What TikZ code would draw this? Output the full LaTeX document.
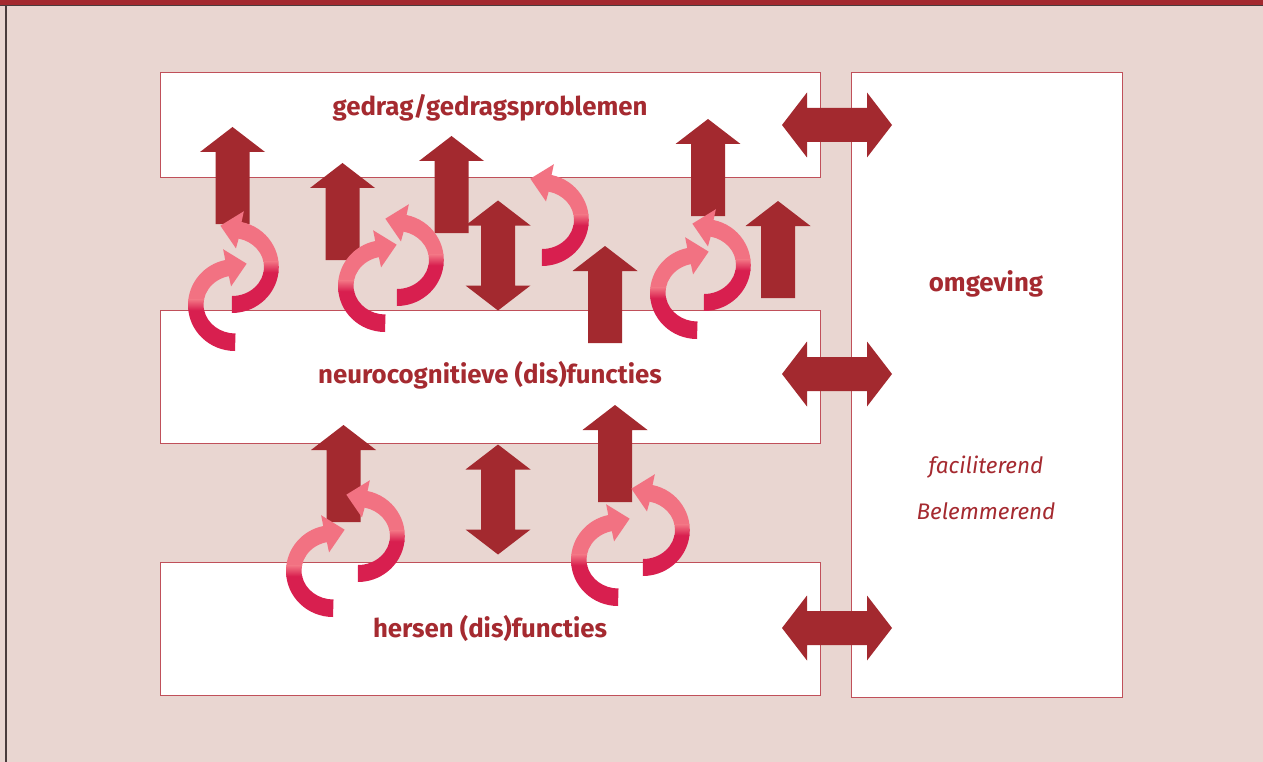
\documentclass[tikz,border=0pt]{standalone}
\usepackage{fontspec}
\setmainfont{Fira Sans}
\usetikzlibrary{calc}
\definecolor{bgpink}{HTML}{E9D6D1}
\definecolor{darkred}{HTML}{A3292F}
\definecolor{txtred}{HTML}{A52A30}
\definecolor{pinkl}{HTML}{F27282}
\definecolor{crims}{HTML}{D81F4F}
\definecolor{boxline}{HTML}{C0505A}
\definecolor{frameline}{HTML}{4A3C3C}
\tikzset{
  box/.style={draw=boxline, line width=0.9pt, fill=white, inner sep=0pt},
  lbl/.style={text=txtred, font=\fontsize{25.8}{30}\selectfont\bfseries, inner sep=0pt},
  ilbl/.style={text=txtred, font=\fontsize{22.5}{26}\selectfont\itshape, inner sep=0pt},
  uparr/.pic={\fill[darkred] (-17,0) -- (-17,-72) -- (-32.5,-72) -- (0,-97) -- (32.5,-72) -- (17,-72) -- (17,0) -- cycle;},
  dblv/.pic={\fill[darkred] (0,-55) -- (32.5,-30) -- (17,-30) -- (17,30) -- (32.5,30) -- (0,55) -- (-32.5,30) -- (-17,30) -- (-17,-30) -- (-32.5,-30) -- cycle;},
  dblh/.pic={\fill[darkred] (-55,0) -- (-30,32.5) -- (-30,17) -- (30,17) -- (30,32.5) -- (55,0) -- (30,-32.5) -- (30,-17) -- (-30,-17) -- (-30,-32.5) -- cycle;},
  lowarc/.pic={
    \begin{scope}[yscale=-1]
    \clip (0,-46) arc[start angle=270, end angle=102, x radius=47, y radius=46] -- (102:57) -- ($(102:38)+(12:20)$) -- (102:19) -- (102:29.5) arc[start angle=102, end angle=270, x radius=32, y radius=29] -- cycle;
    \fill[pinkl] (-70,5) rectangle (70,70);
    \fill[crims] (-70,-5) rectangle (70,-70);
    \shade[bottom color=crims, top color=pinkl] (-70,-5.2) rectangle (70,5.2);
    \end{scope}},
  uparc/.pic={
    \begin{scope}[yscale=-1]
    \clip (0,-29) arc[start angle=270, end angle=438, x radius=32, y radius=29] -- (78:19) -- ($(78:38)+(168:20)$) -- (78:57) -- (78:46) arc[start angle=438, end angle=270, x radius=47, y radius=46] -- cycle;
    \fill[pinkl] (-70,5) rectangle (70,70);
    \fill[crims] (-70,-5) rectangle (70,-70);
    \shade[bottom color=crims, top color=pinkl] (-70,-5.2) rectangle (70,5.2);
    \end{scope}}
}
\begin{document}
\begin{tikzpicture}[x=1pt,y=-1pt]
\useasboundingbox (0,0) rectangle (1263,762);
\fill[bgpink] (0,0) rectangle (1263,762);
\fill[darkred] (0,0) rectangle (1263,5.2);
\draw[frameline, line width=1.2pt] (0,5.6) -- (1263,5.6);
\draw[frameline, line width=1.8pt] (5.8,5) -- (5.8,762);

% boxes
\node[box, minimum width=660pt, minimum height=105pt] (gedragbox) at (490,124.5) {};
\node[box, minimum width=660pt, minimum height=133pt] (neurobox) at (490,376.5) {};
\node[box, minimum width=660pt, minimum height=133pt] (hersenbox) at (490,628.5) {};
\node[box, minimum width=271pt, minimum height=625pt] (omgbox) at (986.5,384.5) {};

% labels
\node[lbl] (tgedrag) at (490,108) {gedrag/gedragsproblemen};
\node[lbl] (tneuro) at (490,375) {neurocognitieve (dis)functies};
\node[lbl] (thersen) at (490,628) {hersen (dis)functies};
\node[lbl] (tomg) at (986,284) {omgeving};
\node[ilbl] (tfac) at (986,467) {faciliterend};
\node[ilbl] (tbel) at (986,511) {Belemmerend};

% horizontal double arrows
\pic at (837,125) {dblh};
\pic at (837,374) {dblh};
\pic at (837,628) {dblh};
% vertical double arrows
\pic at (498,255.5) {dblv};
\pic at (498,499.5) {dblv};
% up arrows (bottom centre)
\pic at (232.5,224) {uparr};
\pic at (342.5,260) {uparr};
\pic at (451.5,233) {uparr};
\pic at (605,343) {uparr};
\pic at (708,216) {uparr};
\pic at (778,298) {uparr};
\pic at (343.5,522) {uparr};
\pic at (615,502) {uparr};

% cycle arrows
\pic at (235,305) {lowarc};
\pic at (232,267) {uparc};
\pic at (385,286) {lowarc};
\pic at (397,260) {uparc};
\pic at (697,293) {lowarc};
\pic at (704,265) {uparc};
\pic at (333,571) {lowarc};
\pic at (358,536) {uparc};
\pic at (618,560) {lowarc};
\pic at (643,530) {uparc};
\pic at (542,220) {uparc};
\end{tikzpicture}
\end{document}
